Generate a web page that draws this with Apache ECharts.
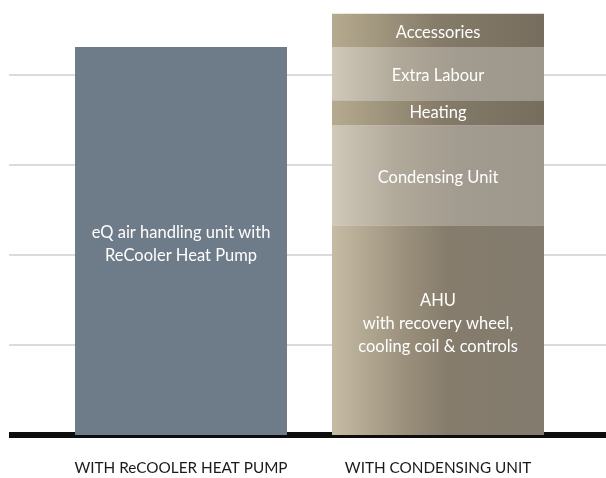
<!DOCTYPE html>
<html>
<head>
<meta charset="utf-8">
<script src="https://cdn.jsdelivr.net/npm/echarts@6/dist/echarts.min.js"></script>
<style>html,body{margin:0;padding:0;background:#fff}#c{width:606px;height:478px}</style>
</head>
<body>
<div id="c"></div>
<script>
var categories = ['WITH ReCOOLER HEAT PUMP', 'WITH CONDENSING UNIT'];
var heatPump = [4.31, null];
var ahu = [null, 2.33];
var condensing = [null, 1.11];
var heating = [null, 0.28];
var extraLabour = [null, 0.59];
var accessories = [null, 0.37];
var yMin = 0, yMax = 4.8333, yStep = 1;

var FONT = 'Lato';
function grad(stops) {
  return new echarts.graphic.LinearGradient(0, 0, 1, 0, stops.map(function (s) { return { offset: s[0], color: s[1] }; }));
}
var lightGrad = grad([[0, '#d0c9b9'], [0.3, '#b1a999'], [0.6, '#a29b8f'], [1, '#9e978c']]);
var darkGrad = grad([[0, '#b6ab8f'], [0.5, '#857b68'], [1, '#766d5e']]);
var ahuGrad = grad([[0, '#c6bca4'], [0.35, '#9a8f7b'], [0.55, '#857c6c'], [1, '#837b6e']]);

function seg(name, data, color, text, offY) {
  return {
    name: name, type: 'bar', xAxisIndex: 1, yAxisIndex: 1, stack: 'total',
    barWidth: 212, data: data,
    itemStyle: { color: color },
    label: {
      show: true, position: 'inside', formatter: text, color: '#fff',
      fontFamily: FONT, fontSize: 16.5, lineHeight: 23, offset: [0, offY || 0]
    },
    emphasis: { disabled: true }
  };
}

var chart = echarts.init(document.getElementById('c'));
chart.setOption({
  animation: false,
  grid: [
    { left: 9, right: 0, top: 0, bottom: 43 },
    { left: 52.5, right: 39.5, top: 0, bottom: 43 }
  ],
  xAxis: [
    { gridIndex: 0, type: 'value', min: 0, max: 1, offset: 3,
      axisLine: { show: true, lineStyle: { color: '#0d0d0d', width: 6, cap: 'butt' } },
      axisTick: { show: false }, axisLabel: { show: false }, splitLine: { show: false } },
    { gridIndex: 1, type: 'category', data: categories,
      axisLine: { show: false }, axisTick: { show: false },
      axisLabel: { interval: 0, margin: 26, color: '#1a1a1a', fontFamily: FONT, fontSize: 15.3 } }
  ],
  yAxis: [
    { gridIndex: 0, type: 'value', min: yMin, max: yMax, interval: yStep,
      axisLine: { show: false }, axisTick: { show: false }, axisLabel: { show: false },
      splitLine: { show: true, showMaxLine: false, lineStyle: { color: '#cfcfcf', width: 1.5 } } },
    { gridIndex: 1, type: 'value', min: yMin, max: yMax, interval: yStep, show: false }
  ],
  series: [
    seg('eQ', heatPump, '#6e7b89', 'eQ air handling unit with\nReCooler Heat Pump', 3),
    seg('AHU', ahu, ahuGrad, 'AHU\nwith recovery wheel,\ncooling coil & controls', -6),
    seg('Condensing Unit', condensing, lightGrad, 'Condensing Unit', 2),
    seg('Heating', heating, darkGrad, 'Heating', 0),
    seg('Extra Labour', extraLabour, lightGrad, 'Extra Labour', 2),
    seg('Accessories', accessories, darkGrad, 'Accessories', 2)
  ]
});
</script>
</body>
</html>
